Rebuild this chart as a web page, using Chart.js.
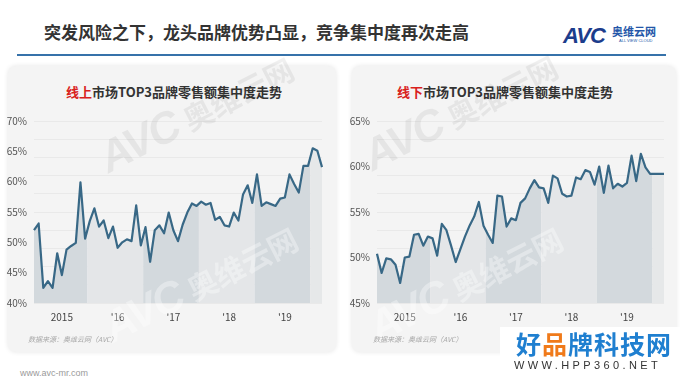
<!DOCTYPE html>
<html><head><meta charset="utf-8">
<script src="https://cdn.jsdelivr.net/npm/chart.js@4.4.1/dist/chart.umd.min.js"></script>
<style>
html,body{margin:0;padding:0;background:#fff;}
#page{position:relative;width:680px;height:383px;overflow:hidden;font-family:"Noto Sans CJK SC","Noto Sans",sans-serif;}
.abs{position:absolute;white-space:nowrap;}
.card{position:absolute;background:#f4f4f4;border-radius:8px;box-shadow:0 0 5px rgba(0,0,0,0.10);}
.ctitle{position:absolute;text-align:center;font-size:13px;font-weight:bold;color:#333;line-height:16px;}
.ctitle span{color:#d9201c;}
.src{position:absolute;font-size:7px;font-style:italic;color:#a8a8a8;}
canvas{position:absolute;}
.wm{position:absolute;white-space:nowrap;transform:translate(-50%,-50%) rotate(-27deg);line-height:1;}
.wm b{font-family:'Liberation Sans',sans-serif;font-style:italic;font-size:44px;letter-spacing:-2px;}
.wm i{font-style:normal;font-weight:bold;font-size:30px;margin-left:8px;}
</style></head>
<body>
<div id="page">
  <div class="abs" style="left:44px;top:22px;font-size:17px;font-weight:bold;color:#333;line-height:20px;">突发风险之下，龙头品牌优势凸显，竞争集中度再次走高</div>
  <div class="abs" style="left:17px;top:54px;width:649px;height:2px;background:#3672aa;"></div>
  <div class="abs" style="left:563px;top:24px;font-family:'Liberation Sans',sans-serif;font-style:italic;font-weight:bold;font-size:22px;color:#1c3d8c;letter-spacing:-1px;line-height:24px;">AVC</div>
  <div class="abs" style="left:612px;top:25px;font-size:11px;font-weight:bold;color:#2356a8;line-height:13px;">奥维云网</div>
  <div class="abs" style="left:619px;top:38px;font-size:4px;color:#2356a8;line-height:5px;font-family:'Liberation Sans',sans-serif;">ALL VIEW CLOUD</div>

  <div class="card" style="left:8px;top:66px;width:328px;height:286px;"></div>
  <div class="card" style="left:352px;top:66px;width:324px;height:286px;"></div>

  <div class="ctitle" style="left:0px;width:348px;top:84px;"><span>线上</span>市场TOP3品牌零售额集中度走势</div>
  <div class="ctitle" style="left:352px;width:306px;top:84px;"><span>线下</span>市场TOP3品牌零售额集中度走势</div>

  <canvas id="c1" width="326" height="220" style="left:4px;top:108px;width:326px;height:220px;"></canvas>
  <canvas id="c2" width="325" height="220" style="left:347px;top:108px;width:325px;height:220px;"></canvas>

  <div class="wm" style="left:196px;top:112px;color:rgba(0,0,0,0.06);"><b>AVC</b><i>奥维云网</i></div>
  <div class="wm" style="left:200px;top:282px;color:rgba(255,255,255,0.35);"><b>AVC</b><i>奥维云网</i></div>
  <div class="wm" style="left:460px;top:110px;color:rgba(0,0,0,0.06);"><b>AVC</b><i>奥维云网</i></div>
  <div class="wm" style="left:465px;top:282px;color:rgba(255,255,255,0.35);"><b>AVC</b><i>奥维云网</i></div>

  <div class="src" style="left:28px;top:334px;">数据来源：奥维云网（AVC）</div>
  <div class="src" style="left:373px;top:334px;">数据来源：奥维云网（AVC）</div>
  <div class="abs" style="left:20px;top:368px;font-size:9px;color:#9a9a9a;font-family:'Liberation Sans',sans-serif;">www.avc-mr.com</div>

  <div class="abs" style="left:500px;top:327px;width:180px;height:46px;background:#fff;"></div>
  <div class="abs" style="left:516px;top:328px;font-size:25px;font-weight:bold;color:#1f7fd0;line-height:30px;letter-spacing:1px;">好<span style="color:#f07a1a">品</span>牌科技网</div>
  <div class="abs" style="left:514px;top:359px;font-size:11px;color:#333;letter-spacing:3.4px;line-height:12px;font-family:'Liberation Sans',sans-serif;">WWW.HPP360.NET</div>
</div>
<script>
// ---- data ----
const years = ['2015','2016','2017','2018','2019','2020'];
const monthsPerYear = [12,12,12,12,12,3];
const months = [];
years.forEach((y,k)=>{ for(let m=1;m<=monthsPerYear[k];m++) months.push(y+'-'+String(m).padStart(2,'0')); });

const xTickText = {'2015-07':'2015','2016-07':"'16",'2017-07':"'17",'2018-07':"'18",'2019-07':"'19"};

const onlineShare = [52.0,53.1,42.5,43.6,42.5,48.2,44.6,48.8,49.4,49.9,59.9,50.6,
  53.5,55.6,52.6,53.6,50.7,52.6,49.1,50.0,50.5,50.2,56.1,49.5,
  52.5,46.8,52.0,52.8,51.5,54.9,52.0,50.2,52.9,54.9,56.4,56.0,
  56.7,56.2,56.5,53.7,54.2,52.8,52.6,54.9,53.6,57.9,59.4,56.5,
  61.2,56.0,56.6,56.3,56.0,57.2,57.4,61.2,59.6,58.2,62.6,62.6,
  65.5,65.1,62.4];

const offlineShare = [50.4,48.3,49.9,49.8,49.2,47.2,50.0,50.1,52.5,52.6,51.3,52.3,
  52.1,50.2,53.7,53.0,51.3,49.5,50.9,52.3,53.5,54.5,56.1,53.5,
  52.5,51.6,56.8,56.7,53.4,54.3,54.1,56.0,56.5,57.6,58.5,57.7,
  57.6,56.0,59.0,58.7,57.0,56.7,56.8,58.8,58.6,59.6,59.4,58.0,
  60.0,57.1,60.1,57.6,58.1,57.8,58.2,61.2,58.4,61.4,59.9,59.2,
  59.2,59.2,59.2];

const onlineTicks = [40,45,50,55,60,65,70];
const offlineTicks = [45,50,55,60,65];
const bandColors = ['#d3d9dd','#e4e6e8','#d3d9dd','#e4e6e8','#d3d9dd','#e6e8e9'];

const LINE = '#386886';

const bandPlugin = {
  id:'bands',
  beforeDatasetsDraw(chart){
    const {ctx, chartArea:a, scales:{x}} = chart;
    const pts = chart.getDatasetMeta(0).data;
    let start = 0;
    years.forEach((yr,k)=>{
      const end = start + monthsPerYear[k] - 1;
      const x0 = Math.max(a.left, x.getPixelForValue(start - 0.5));
      const x1 = Math.min(a.right, x.getPixelForValue(end + 0.5));
      ctx.save();
      ctx.beginPath(); ctx.rect(x0, a.top, x1 - x0, a.bottom - a.top); ctx.clip();
      ctx.beginPath();
      ctx.moveTo(pts[0].x, a.bottom);
      pts.forEach(p=>ctx.lineTo(p.x, p.y));
      ctx.lineTo(pts[pts.length-1].x, a.bottom);
      ctx.closePath();
      ctx.fillStyle = bandColors[k];
      ctx.fill();
      ctx.restore();
      start = end + 1;
    });
  }
};

function makeChart(id, values, ticks, minorStep, fontSize){
  const min = ticks[0], max = ticks[ticks.length-1];
  return new Chart(document.getElementById(id), {
    type:'line',
    data:{labels:months, datasets:[{data:values, borderColor:LINE, borderWidth:2.2, pointRadius:0, tension:0, fill:false, borderJoinStyle:'round'}]},
    options:{
      responsive:false, animation:false,
      layout:{padding:{top:10,right:7,left:0,bottom:0}},
      plugins:{legend:{display:false}, tooltip:{enabled:false}},
      scales:{
        x:{type:'category', offset:false, grid:{display:false, drawTicks:false}, border:{display:false},
           ticks:{autoSkip:false, maxRotation:0, minRotation:0, padding:8, color:'#444',
             font:{family:'"Noto Sans CJK SC", sans-serif', size:fontSize},
             callback:(v,i)=>xTickText[months[i]]||''},
           afterFit:s=>{s.height=25;}},
        y:{position:'left', min, max, afterBuildTicks:s=>{s.ticks = ticks.map(v=>({value:v}));},
           grid:{display:false, drawTicks:false}, border:{display:false},
           ticks:{padding:7, color:'#555', font:{family:'"Noto Sans CJK SC", sans-serif', size:fontSize}, callback:v=>v+'%'},
           afterFit:s=>{s.width=30;}},
        g:{position:'right', min, max, ticks:{display:false, stepSize:minorStep},
           grid:{color:'rgba(0,0,0,0.045)', lineWidth:1, drawTicks:false}, border:{display:false},
           afterFit:s=>{s.width=0;}}
      }
    },
    plugins:[bandPlugin]
  });
}

makeChart('c1', onlineShare, onlineTicks, 3, 10);
makeChart('c2', offlineShare, offlineTicks, 2, 10);
</script>
</body></html>
